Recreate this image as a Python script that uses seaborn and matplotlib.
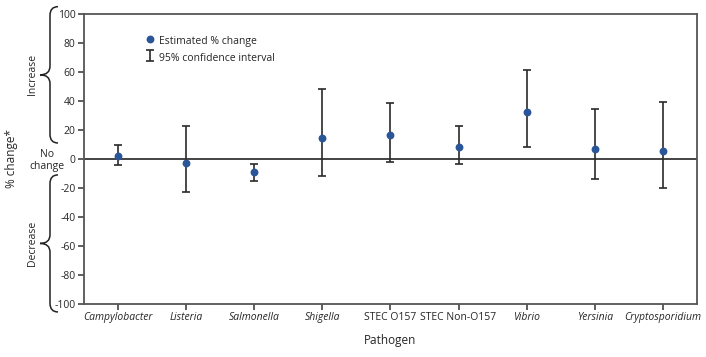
import pandas as pd
import numpy as np
import matplotlib.pyplot as plt
import matplotlib.transforms as mtransforms
from matplotlib.path import Path
from matplotlib.patches import PathPatch
import seaborn as sns

# data
pathogens = ['Campylobacter', 'Listeria', 'Salmonella', 'Shigella', 'STEC O157',
             'STEC Non-O157', 'Vibrio', 'Yersinia', 'Cryptosporidium']
italic = [True, True, True, True, False, False, True, True, True]
estimate = [2.3, -2.5, -8.7, 14.3, 16.5, 8.3, 32.4, 7.1, 5.5]
ci_low = [-3.9, -23.0, -15.0, -11.5, -2.3, -3.7, 8.3, -13.8, -20.0]
ci_high = [9.4, 22.5, -3.2, 48.0, 38.4, 22.8, 61.2, 34.5, 39.5]
yticks = list(range(-100, 101, 20))

df = pd.DataFrame({'pathogen': pathogens, 'change': estimate, 'lo': ci_low, 'hi': ci_high})

sns.set_style('ticks')
plt.rcParams['font.family'] = ['Open Sans', 'DejaVu Sans']

fig, ax = plt.subplots(figsize=(7.06, 3.57), dpi=100)
fig.subplots_adjust(left=0.119, right=0.987, bottom=0.1485, top=0.961)

blue = '#2a5699'
ax.axhline(0, color='#111111', lw=1.1, zorder=1)
ax.errorbar(np.arange(len(df)), df['change'],
            yerr=[df['change'] - df['lo'], df['hi'] - df['change']],
            fmt='none', ecolor='#2a2a2a', elinewidth=1.2, capsize=2.8, capthick=1.2,
            zorder=2, label='95% confidence interval')
sns.scatterplot(data=df, x='pathogen', y='change', color=blue, s=32,
                edgecolor=blue, linewidth=0, zorder=3, ax=ax,
                label='Estimated % change')

ax.set_xlim(-0.5, len(df) - 0.5)
ax.set_ylim(-100, 100)
ax.set_yticks(yticks)
ax.set_yticklabels([str(t) for t in yticks], fontsize=7.5)
ax.set_xticks(np.arange(len(df)))
ax.set_xticklabels(pathogens, fontsize=7.5)
for lab, it in zip(ax.get_xticklabels(), italic):
    if it:
        lab.set_style('italic')
ax.tick_params(axis='both', length=4, width=1.1, color='#333333', pad=2)
ax.set_xlabel('Pathogen', fontsize=8.5, labelpad=8)
ax.set_ylabel('')

for s in ax.spines.values():
    s.set_visible(True)
    s.set_linewidth(1.3)
    s.set_color('#555555')

handles, labels = ax.get_legend_handles_labels()
order = [labels.index('Estimated % change'), labels.index('95% confidence interval')]
ax.legend([handles[i] for i in order], [labels[i] for i in order],
          loc='upper left', bbox_to_anchor=(0.085, 0.965), frameon=False,
          fontsize=7.5, handlelength=0.8, handleheight=1.6, handletextpad=0.5,
          labelspacing=0.35)

# braces and labels in the left margin
tr = mtransforms.blended_transform_factory(fig.transFigure, ax.transData)


def brace(y0, y1):
    xl = 50 / 706
    xt = 40 / 706
    xe = 58 / 706
    ym = (y0 + y1) / 2
    r = 6
    verts = [(xe, y1), (xl, y1), (xl, y1 - r),
             (xl, ym + r), (xl, ym), (xt, ym),
             (xl, ym), (xl, ym - r),
             (xl, y0 + r), (xl, y0), (xe, y0)]
    codes = [Path.MOVETO, Path.CURVE3, Path.CURVE3,
             Path.LINETO, Path.CURVE3, Path.CURVE3,
             Path.CURVE3, Path.CURVE3,
             Path.LINETO, Path.CURVE3, Path.CURVE3]
    p = PathPatch(Path(verts, codes), transform=tr, fill=False, lw=1.1,
                  edgecolor='#222222', clip_on=False)
    fig.patches.append(p)


brace(11, 105)
brace(-105.5, -11)
fig.text(32 / 706, 58, 'Increase', transform=tr, rotation=90, fontsize=7.5,
         ha='center', va='center')
fig.text(32 / 706, -58, 'Decrease', transform=tr, rotation=90, fontsize=7.5,
         ha='center', va='center')
fig.text(47 / 706, -1, 'No\nchange', transform=tr, fontsize=7.5,
         ha='center', va='center', linespacing=1.05)
fig.text(12 / 706, 0, '% change*', transform=tr, rotation=90, fontsize=8.5,
         ha='center', va='center')

fig.savefig('out.png', dpi=100)
